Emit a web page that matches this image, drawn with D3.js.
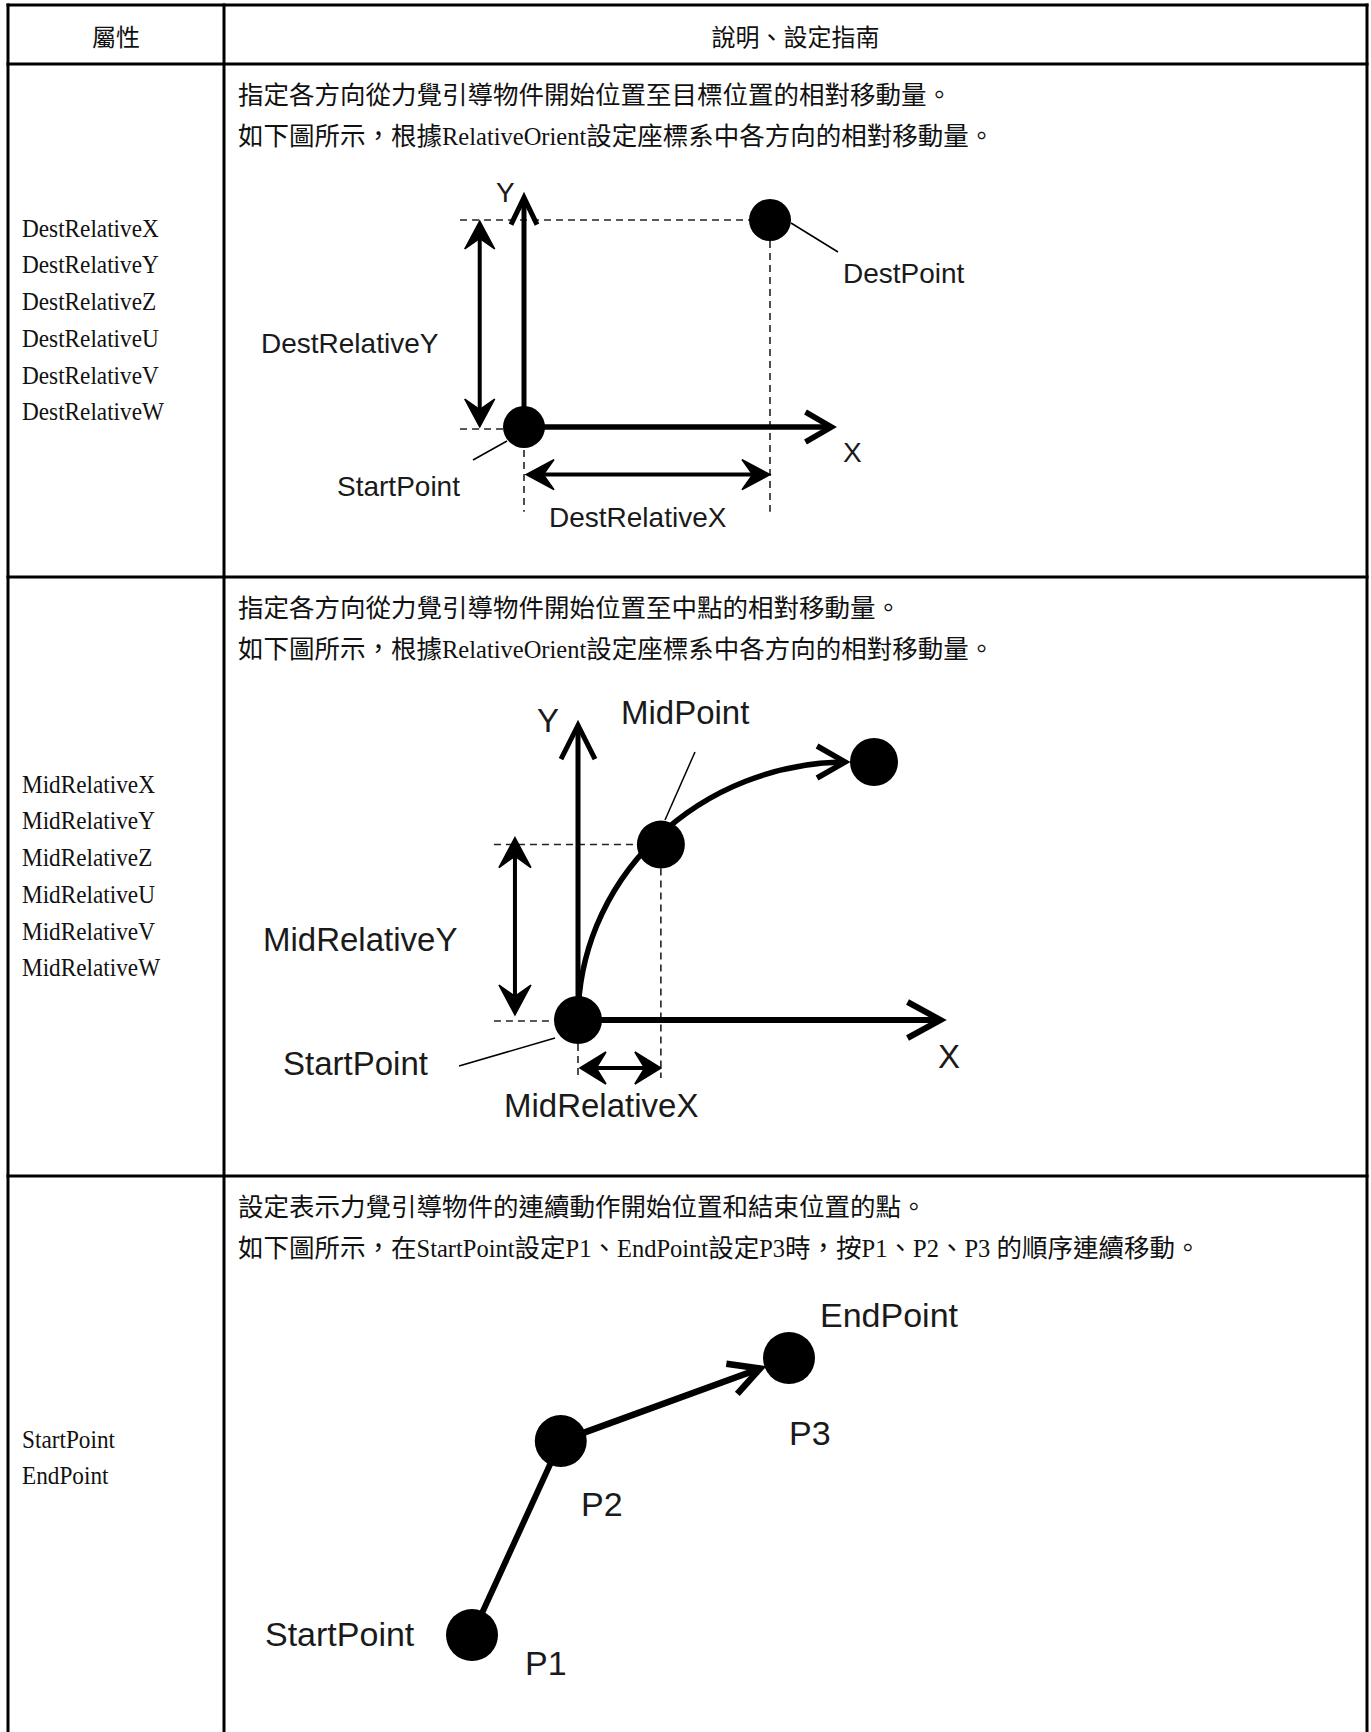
<!DOCTYPE html>
<html><head><meta charset="utf-8">
<script src="https://cdn.jsdelivr.net/npm/d3@7"></script>
<style>
body{margin:0;background:#fff}
svg{display:block}
text{white-space:pre}
</style>
</head><body><div id="chart"></div>
<script>
// ---------- table content ----------
const headers = ["屬性", "說明、設定指南"];
const propsRow1 = ["DestRelativeX","DestRelativeY","DestRelativeZ","DestRelativeU","DestRelativeV","DestRelativeW"];
const propsRow2 = ["MidRelativeX","MidRelativeY","MidRelativeZ","MidRelativeU","MidRelativeV","MidRelativeW"];
const propsRow3 = ["StartPoint","EndPoint"];
const descRow1 = ["指定各方向從力覺引導物件開始位置至目標位置的相對移動量。",
                  "如下圖所示，根據RelativeOrient設定座標系中各方向的相對移動量。"];
const descRow2 = ["指定各方向從力覺引導物件開始位置至中點的相對移動量。",
                  "如下圖所示，根據RelativeOrient設定座標系中各方向的相對移動量。"];
const descRow3 = ["設定表示力覺引導物件的連續動作開始位置和結束位置的點。",
                  "如下圖所示，在StartPoint設定P1、EndPoint設定P3時，按P1、P2、P3 的順序連續移動。"];

// ---------- diagram values (relative units) ----------
const destPoints = [{name:"StartPoint", x:0, y:0}, {name:"DestPoint", x:100, y:100}];
const midPoints  = [{name:"StartPoint", x:0, y:0}, {name:"MidPoint", x:28, y:68}, {name:"End", x:100, y:100}];
const pathPoints = [{name:"P1", x:0, y:0}, {name:"P2", x:28, y:70}, {name:"P3", x:100, y:100}];

// ---------- layout ----------
const W = 1371, H = 1732;
const colX = [8, 224, 1367];
const rowY = [5, 64, 577, 1176, 1740];
const svg = d3.select("#chart").append("svg").attr("width", W).attr("height", H);

const CJK = "'Noto Sans CJK TC','Noto Sans CJK SC',sans-serif";
const SERIF = "'Liberation Serif','DejaVu Serif',serif";
const SANS = "'Liberation Sans',Arial,sans-serif";
const INK = "#111";

// grid
const grid = svg.append("g").attr("stroke", "#000").attr("stroke-width", 3);
colX.forEach(x => grid.append("line").attr("x1", x).attr("x2", x).attr("y1", rowY[0]-1.5).attr("y2", H));
rowY.slice(0, 4).forEach(y => grid.append("line").attr("x1", colX[0]-1.5).attr("x2", colX[2]+1.5).attr("y1", y).attr("y2", y));

// header
headers.forEach((h, i) => {
  svg.append("text").attr("x", (colX[i] + colX[i+1]) / 2).attr("y", 46)
    .attr("text-anchor", "middle").attr("font-family", CJK).attr("font-size", 24)
    .attr("fill", INK).text(h);
});

// rich text: CJK runs + latin runs
function rich(x, y, str) {
  const t = svg.append("text").attr("x", x).attr("y", y).attr("fill", INK);
  (str.match(/[\x20-\x7E]+|[^\x20-\x7E]+/g) || []).forEach(run => {
    const lat = /^[\x20-\x7E]+$/.test(run);
    t.append("tspan")
      .attr("font-family", lat ? SERIF : CJK)
      .attr("font-size", lat ? 24.5 : 25.5)
      .text(run);
  });
}

const descs = [descRow1, descRow2, descRow3];
const props = [propsRow1, propsRow2, propsRow3];
descs.forEach((lines, r) => {
  const top = rowY[r + 1];
  lines.forEach((ln, i) => rich(238, top + 40 + i * 41, ln));
});
props.forEach((list, r) => {
  const c = (rowY[r + 1] + rowY[r + 2]) / 2;
  const step = 36.7;
  list.forEach((p, i) => {
    const yy = c + (i - (list.length - 1) / 2) * step + 8;
    svg.append("text").attr("transform", `translate(22,${yy}) scale(0.93,1)`)
      .attr("font-family", SERIF).attr("font-size", 25)
      .attr("fill", INK).text(p);
  });
});

// ---------- drawing helpers ----------
function line(g, a, b, sw, dash) {
  const l = g.append("line").attr("x1", a[0]).attr("y1", a[1]).attr("x2", b[0]).attr("y2", b[1])
    .attr("stroke", "#000").attr("stroke-width", sw);
  if (dash) l.attr("stroke-dasharray", dash).attr("stroke", "#222");
  return l;
}
function unit(dir) { const len = Math.hypot(dir[0], dir[1]); return [dir[0] / len, dir[1] / len]; }
function chevron(g, tip, dir, L, Wd, sw) {
  const d = unit(dir), n = [-d[1], d[0]];
  const t = [tip[0] - d[0] * sw * 0.9, tip[1] - d[1] * sw * 0.9];
  const pts = [[t[0] - d[0]*L + n[0]*Wd, t[1] - d[1]*L + n[1]*Wd], t,
               [t[0] - d[0]*L - n[0]*Wd, t[1] - d[1]*L - n[1]*Wd]];
  g.append("path").attr("d", d3.line()(pts)).attr("fill", "none").attr("stroke", "#000")
    .attr("stroke-width", sw).attr("stroke-linejoin", "miter").attr("stroke-miterlimit", 12);
}
function stealth(g, tip, dir, L, Wd) {
  const d = unit(dir), n = [-d[1], d[0]];
  const pts = [tip,
    [tip[0] - d[0]*L + n[0]*Wd, tip[1] - d[1]*L + n[1]*Wd],
    [tip[0] - d[0]*L*0.62, tip[1] - d[1]*L*0.62],
    [tip[0] - d[0]*L - n[0]*Wd, tip[1] - d[1]*L - n[1]*Wd]];
  g.append("path").attr("d", d3.line()(pts) + "Z").attr("fill", "#000")
    .attr("stroke", "#000").attr("stroke-width", 1.5).attr("stroke-linejoin", "miter");
}
function arrow(g, a, b, sw, L, Wd) {
  const u = unit([b[0] - a[0], b[1] - a[1]]);
  line(g, a, [b[0] - u[0] * 5, b[1] - u[1] * 5], sw);
  chevron(g, b, u, L, Wd, sw);
}
function dimArrow(g, a, b, sw, L, Wd) {
  const u = unit([b[0] - a[0], b[1] - a[1]]);
  line(g, [a[0] + u[0] * 8, a[1] + u[1] * 8], [b[0] - u[0] * 8, b[1] - u[1] * 8], sw);
  stealth(g, b, u, L, Wd);
  stealth(g, a, [-u[0], -u[1]], L, Wd);
}
function label(g, x, y, txt, size) {
  g.append("text").attr("x", x).attr("y", y).attr("font-family", SANS).attr("font-size", size)
    .attr("fill", "#1a1a1a").text(txt);
}
const DASH = "7,5";

// ---------- diagram 1 ----------
{
  const g = svg.append("g");
  const x = d3.scaleLinear([0, 100], [524, 770]);
  const y = d3.scaleLinear([0, 100], [427, 220]);
  const s = destPoints[0], e = destPoints[1];
  const R = 21;
  line(g, [x(-26), y(e.y)], [x(e.x) - R, y(e.y)], 1.6, DASH);
  line(g, [x(-26), y(s.y) + 2], [x(s.x) - R, y(s.y) + 2], 1.6, DASH);
  line(g, [x(e.x), y(e.y) + R], [x(e.x), y(-41)], 1.6, DASH);
  line(g, [x(s.x), y(s.y) + R + 2], [x(s.x), y(-41)], 1.6, DASH);
  arrow(g, [x(0), y(0)], [x(0), y(113)], 5, 27, 13);
  arrow(g, [x(0), y(0)], [x(127), y(0)], 5.5, 26, 15);
  dimArrow(g, [x(-18), y(0)], [x(-18), y(e.y) + 1], 4, 28, 15);
  dimArrow(g, [x(s.x) + 2, y(-23)], [x(e.x), y(-23)], 4, 28, 15);
  line(g, [791, 223], [838, 252], 1.5);
  line(g, [507, 441], [473, 460], 1.5);
  g.selectAll("ellipse.p").data(destPoints).join("ellipse")
    .attr("cx", d => x(d.x)).attr("cy", d => y(d.y)).attr("rx", R).attr("ry", R).attr("fill", "#000");
  label(g, 496, 202, "Y", 28);
  label(g, 843, 462, "X", 28);
  label(g, 843, 283, "DestPoint", 28);
  label(g, 261, 353, "DestRelativeY", 28);
  label(g, 337, 496, "StartPoint", 28);
  label(g, 549, 527, "DestRelativeX", 28);
}

// ---------- diagram 2 ----------
{
  const g = svg.append("g");
  const x = d3.scaleLinear([0, 100], [578, 874]);
  const y = d3.scaleLinear([0, 100], [1020, 762]);
  const [s, m, e] = midPoints;
  const R = 24;
  line(g, [x(-28.4), y(m.y)], [x(m.x) - R, y(m.y)], 1.6, DASH);
  line(g, [x(-28.4), y(s.y) + 1], [x(s.x) - R, y(s.y) + 1], 1.6, DASH);
  line(g, [x(m.x), y(m.y) + R], [x(m.x), y(-22.5)], 1.6, DASH);
  line(g, [x(s.x), y(s.y) + R], [x(s.x), y(-22.5)], 1.6, DASH);
  arrow(g, [x(0), y(0)], [x(0), y(116)], 5, 34, 17);
  arrow(g, [x(0), y(0)], [x(124.3), y(0)], 6, 33, 18);
  dimArrow(g, [x(-21.3), y(0) - 5], [x(-21.3), y(m.y) - 7], 4, 30, 16);
  dimArrow(g, [x(s.x) + 2, y(-18.6)], [x(m.x), y(-18.6)], 4, 26, 16);
  const ex = x(e.x) - 26, ey = y(e.y);
  const rx = ex - x(s.x), ry = y(s.y) - ey;
  g.append("path").attr("d", `M${x(s.x)},${y(s.y)} A${rx},${ry} 0 0 1 ${ex - 4},${ey}`)
    .attr("fill", "none").attr("stroke", "#000").attr("stroke-width", 5.5);
  chevron(g, [ex + 2, ey], [1, 0], 28, 16, 5.5);
  line(g, [665, 820], [695, 752], 1.5);
  line(g, [555, 1038], [459, 1066], 1.5);
  g.selectAll("ellipse.p").data(midPoints).join("ellipse")
    .attr("cx", d => x(d.x)).attr("cy", d => y(d.y)).attr("rx", R).attr("ry", R).attr("fill", "#000");
  label(g, 537, 732, "Y", 33);
  label(g, 938, 1068, "X", 33);
  label(g, 621, 724, "MidPoint", 33);
  label(g, 263, 951, "MidRelativeY", 33);
  label(g, 283, 1075, "StartPoint", 33);
  label(g, 504, 1117, "MidRelativeX", 33);
}

// ---------- diagram 3 ----------
{
  const g = svg.append("g");
  const x = d3.scaleLinear([0, 100], [472, 789]);
  const y = d3.scaleLinear([0, 100], [1635, 1358]);
  const [p1, p2, p3] = pathPoints;
  const R = 26;
  line(g, [x(p1.x), y(p1.y)], [x(p2.x), y(p2.y)], 6);
  const dx = x(p3.x) - x(p2.x), dy = y(p3.y) - y(p2.y), len = Math.hypot(dx, dy);
  const tip = [x(p3.x) - dx / len * (R - 1), y(p3.y) - dy / len * (R - 1)];
  arrow(g, [x(p2.x), y(p2.y)], tip, 6.5, 30, 16);
  g.selectAll("ellipse.p").data(pathPoints).join("ellipse")
    .attr("cx", d => x(d.x)).attr("cy", d => y(d.y)).attr("rx", R).attr("ry", R).attr("fill", "#000");
  label(g, 820, 1327, "EndPoint", 34);
  label(g, 789, 1445, "P3", 34);
  label(g, 581, 1516, "P2", 34);
  label(g, 525, 1675, "P1", 34);
  label(g, 265, 1646, "StartPoint", 34);
}
</script>
</body></html>
